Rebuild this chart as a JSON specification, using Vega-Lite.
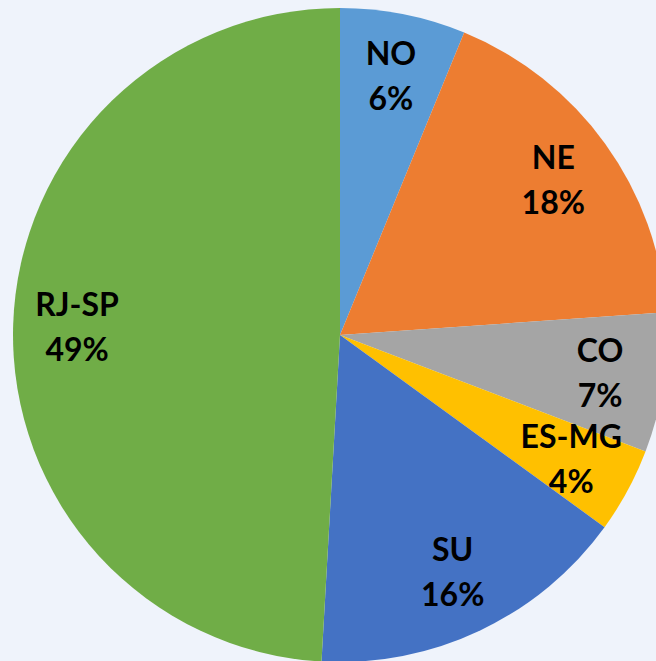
{
  "$schema": "https://vega.github.io/schema/vega-lite/v6.json",
  "width": 632,
  "height": 652,
  "padding": {"left": 24, "top": 9, "right": 0, "bottom": 0},
  "autosize": {"type": "none"},
  "background": "#EFF3FB",
  "view": {"stroke": null},
  "data": {
    "values": [
      {"region": "NO", "value": 6.2, "pct": "6%", "order": 1},
      {"region": "NE", "value": 17.7, "pct": "18%", "order": 2},
      {"region": "CO", "value": 6.9, "pct": "7%", "order": 3},
      {"region": "ES-MG", "value": 4.2, "pct": "4%", "order": 4},
      {"region": "SU", "value": 15.9, "pct": "16%", "order": 5},
      {"region": "RJ-SP", "value": 49.1, "pct": "49%", "order": 6}
    ]
  },
  "encoding": {
    "theta": {"field": "value", "type": "quantitative", "stack": true},
    "order": {"field": "order", "type": "quantitative"}
  },
  "layer": [
    {
      "mark": {"type": "arc", "outerRadius": 327},
      "encoding": {
        "color": {
          "field": "region",
          "type": "nominal",
          "scale": {
            "domain": ["NO", "NE", "CO", "ES-MG", "SU", "RJ-SP"],
            "range": ["#5B9BD5", "#ED7D31", "#A5A5A5", "#FFC000", "#4472C4", "#70AD47"]
          },
          "legend": null
        }
      }
    },
    {
      "mark": {"type": "text", "radius": 263, "dy": -22, "font": "Lato", "fontWeight": "bold", "fontSize": 32, "fill": "#000000", "baseline": "middle", "align": "center"},
      "encoding": {"text": {"field": "region", "type": "nominal"}}
    },
    {
      "mark": {"type": "text", "radius": 263, "dy": 23, "font": "Lato", "fontWeight": "bold", "fontSize": 32, "fill": "#000000", "baseline": "middle", "align": "center"},
      "encoding": {"text": {"field": "pct", "type": "nominal"}}
    }
  ]
}
